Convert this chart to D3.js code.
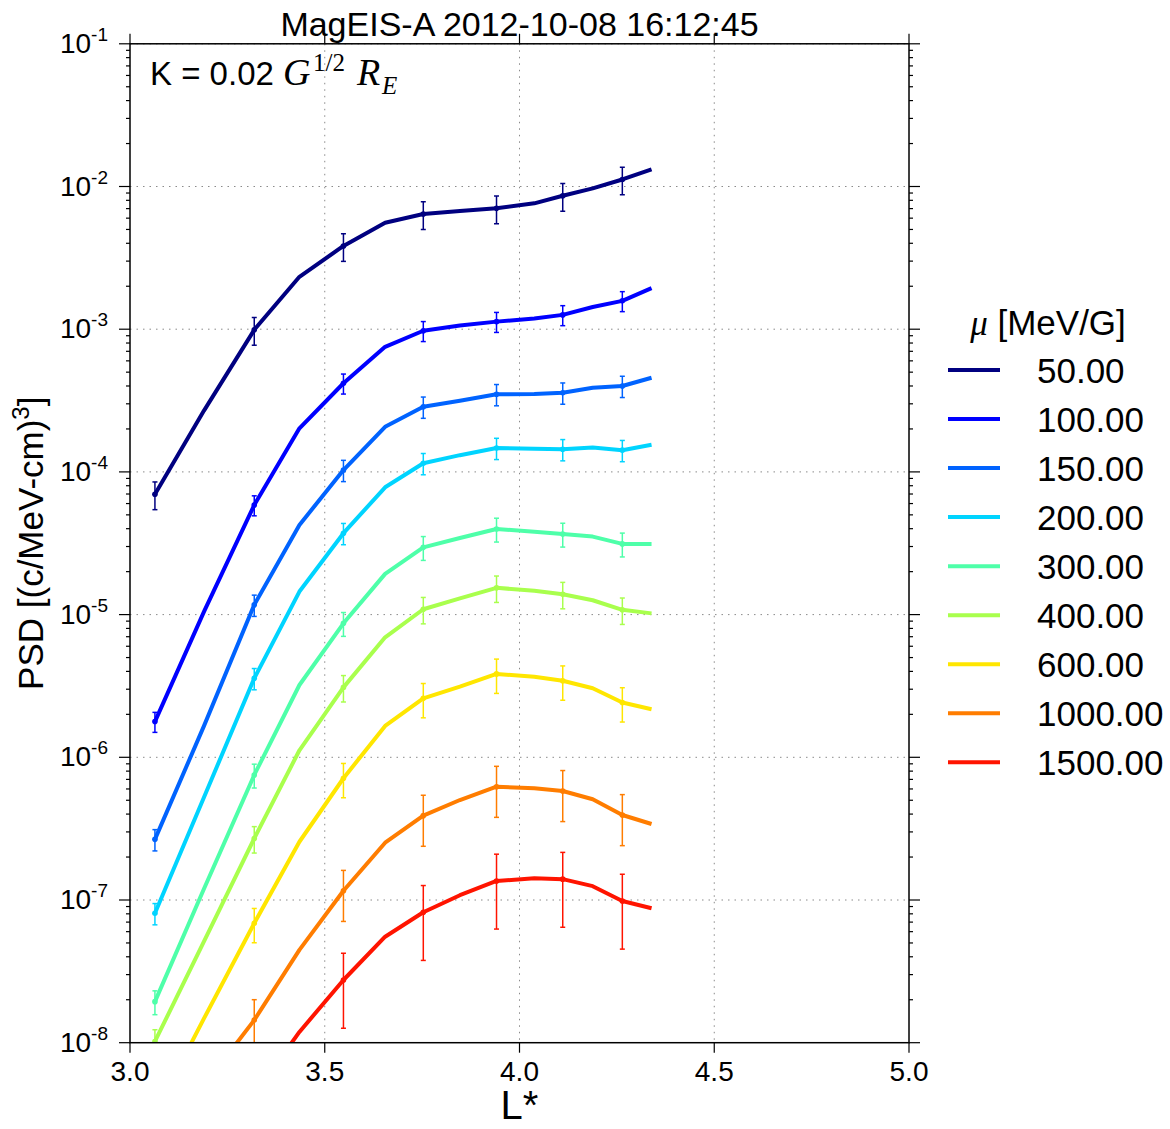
<!DOCTYPE html>
<html lang="en">
<head>
    <meta charset="UTF-8">
    <title>MagEIS-A PSD vs L*</title>
    <script src="https://cdn.jsdelivr.net/npm/d3@7"></script>
    <style>
        body { margin: 0; padding: 0; background: #fff; overflow: hidden; }
        svg { display: block; }
        text { font-family: "Liberation Sans", Arial, sans-serif; fill: #000; }
        .math { font-family: "Liberation Serif", "DejaVu Serif", serif; font-style: italic; }
    </style>
</head>
<body>
    <svg id="chart" width="1170" height="1129"></svg>
    <script>
        // L* positions of the profile points
        var lStar = [3.064, 3.19, 3.319, 3.435, 3.548, 3.655, 3.753, 3.847, 3.941, 4.038, 4.111, 4.188, 4.264, 4.339];
        // points that carry an error bar
        var errIdx = [0, 2, 4, 6, 8, 10, 12];

        var muLabels = ["50.00", "100.00", "150.00", "200.00", "300.00", "400.00", "600.00", "1000.00", "1500.00"];

        // phase space density, one array per mu
        var psd50 = [6.97e-5, 2.69e-4, 9.9e-4, 2.33e-3, 3.83e-3, 5.57e-3, 6.41e-3, 6.73e-3, 7.03e-3, 7.62e-3, 8.61e-3, 9.70e-3, 1.12e-2, 1.32e-2];
        var psd100 = [1.78e-6, 1.05e-5, 5.86e-5, 2.02e-4, 4.18e-4, 7.53e-4, 9.75e-4, 1.06e-3, 1.13e-3, 1.19e-3, 1.26e-3, 1.43e-3, 1.58e-3, 1.94e-3];
        var psd150 = [2.66e-7, 1.66e-6, 1.17e-5, 4.25e-5, 1.03e-4, 2.07e-4, 2.86e-4, 3.15e-4, 3.50e-4, 3.52e-4, 3.59e-4, 3.89e-4, 4.00e-4, 4.57e-4];
        var psd200 = [8.07e-8, 5.25e-7, 3.58e-6, 1.45e-5, 3.72e-5, 7.80e-5, 1.15e-4, 1.31e-4, 1.47e-4, 1.45e-4, 1.44e-4, 1.48e-4, 1.42e-4, 1.55e-4];
        var psd300 = [1.94e-8, 1.20e-7, 7.52e-7, 3.21e-6, 8.69e-6, 1.93e-5, 2.96e-5, 3.44e-5, 3.98e-5, 3.81e-5, 3.67e-5, 3.52e-5, 3.13e-5, 3.13e-5];
        var psd400 = [1.02e-8, 5.13e-8, 2.70e-7, 1.12e-6, 3.09e-6, 6.93e-6, 1.09e-5, 1.30e-5, 1.54e-5, 1.47e-5, 1.39e-5, 1.26e-5, 1.08e-5, 1.02e-5];
        var psd600 = [3.2e-9, 1.48e-8, 6.87e-8, 2.56e-7, 7.13e-7, 1.66e-6, 2.59e-6, 3.13e-6, 3.84e-6, 3.67e-6, 3.44e-6, 3.05e-6, 2.42e-6, 2.17e-6];
        var psd1000 = [1.6e-9, 5.0e-9, 1.44e-8, 4.47e-8, 1.16e-7, 2.52e-7, 3.90e-7, 5.02e-7, 6.22e-7, 6.07e-7, 5.81e-7, 5.08e-7, 3.94e-7, 3.41e-7];
        var psd1500 = [2.5e-10, 1.0e-9, 4.3e-9, 1.19e-8, 2.75e-8, 5.53e-8, 8.20e-8, 1.08e-7, 1.36e-7, 1.42e-7, 1.40e-7, 1.25e-7, 9.84e-8, 8.75e-8];

        // relative error of each mu channel
        var relErr = [0.22, 0.16, 0.17, 0.17, 0.19, 0.21, 0.27, 0.39, 0.54];

        var xTicks = [3.0, 3.5, 4.0, 4.5, 5.0];
        var yExps = [-8, -7, -6, -5, -4, -3, -2, -1];

        var allPsd = [psd50, psd100, psd150, psd200, psd300, psd400, psd600, psd1000, psd1500];
        var colors = ["#000080", "#0000ff", "#0063ff", "#00d4ff", "#4effa9", "#a9ff4d", "#ffe600", "#ff7d00", "#ff1400"];

        var pLeft = 130, pRight = 909, pTop = 43.8, pBottom = 1042.7;

        var x = d3.scaleLinear().domain([3, 5]).range([pLeft, pRight]);
        var y = d3.scaleLog().domain([1e-8, 1e-1]).range([pBottom, pTop]);

        var svg = d3.select("#chart");

        svg.append("defs").append("clipPath").attr("id", "plotClip")
            .append("rect")
            .attr("x", pLeft).attr("y", pTop)
            .attr("width", pRight - pLeft).attr("height", pBottom - pTop);

        // grid
        var grid = svg.append("g");
        xTicks.slice(1, -1).forEach(function (t) {
            grid.append("line")
                .attr("x1", x(t)).attr("x2", x(t))
                .attr("y1", pTop).attr("y2", pBottom)
                .attr("stroke", "#8a8a8a").attr("stroke-width", 1)
                .attr("stroke-dasharray", "1.5,5");
        });
        yExps.slice(1).forEach(function (e) {
            grid.append("line")
                .attr("x1", pLeft).attr("x2", pRight)
                .attr("y1", y(Math.pow(10, e))).attr("y2", y(Math.pow(10, e)))
                .attr("stroke", "#8a8a8a").attr("stroke-width", 1)
                .attr("stroke-dasharray", "1.5,5");
        });

        // data
        var plot = svg.append("g").attr("clip-path", "url(#plotClip)");
        var line = d3.line()
            .x(function (d) { return x(d[0]); })
            .y(function (d) { return y(d[1]); });

        allPsd.forEach(function (vals, i) {
            var pts = lStar.map(function (l, j) { return [l, vals[j]]; });
            var c = colors[i];

            errIdx.forEach(function (j) {
                var v = vals[j];
                var lo = v * (1 - relErr[i]), hi = v * (1 + relErr[i]);
                var xx = x(lStar[j]);
                plot.append("line")
                    .attr("x1", xx).attr("x2", xx)
                    .attr("y1", y(lo)).attr("y2", y(hi))
                    .attr("stroke", c).attr("stroke-width", 1.5);
                [lo, hi].forEach(function (w) {
                    plot.append("line")
                        .attr("x1", xx - 2.5).attr("x2", xx + 2.5)
                        .attr("y1", y(w)).attr("y2", y(w))
                        .attr("stroke", c).attr("stroke-width", 1.5);
                });
                plot.append("circle")
                    .attr("cx", xx).attr("cy", y(v)).attr("r", 2.8)
                    .attr("fill", c);
            });

            plot.append("path")
                .attr("d", line(pts))
                .attr("fill", "none")
                .attr("stroke", c)
                .attr("stroke-width", 4)
                .attr("stroke-linejoin", "round");
        });

        // frame
        svg.append("rect")
            .attr("x", pLeft).attr("y", pTop)
            .attr("width", pRight - pLeft).attr("height", pBottom - pTop)
            .attr("fill", "none").attr("stroke", "#000").attr("stroke-width", 1.5);

        // ticks
        var ticks = svg.append("g").attr("stroke", "#000").attr("stroke-width", 1.2);
        xTicks.forEach(function (t) {
            ticks.append("line").attr("x1", x(t)).attr("x2", x(t)).attr("y1", pBottom).attr("y2", pBottom + 10);
            ticks.append("line").attr("x1", x(t)).attr("x2", x(t)).attr("y1", pTop).attr("y2", pTop - 10);
        });
        yExps.forEach(function (e) {
            var yy = y(Math.pow(10, e));
            ticks.append("line").attr("x1", pLeft - 11).attr("x2", pLeft).attr("y1", yy).attr("y2", yy);
            ticks.append("line").attr("x1", pRight).attr("x2", pRight + 11).attr("y1", yy).attr("y2", yy);
            if (e < -1) {
                for (var m = 2; m <= 9; m++) {
                    var ym = y(m * Math.pow(10, e));
                    ticks.append("line").attr("x1", pLeft - 4).attr("x2", pLeft).attr("y1", ym).attr("y2", ym);
                    ticks.append("line").attr("x1", pRight).attr("x2", pRight + 4).attr("y1", ym).attr("y2", ym);
                }
            }
        });

        // tick labels
        xTicks.forEach(function (t) {
            svg.append("text")
                .attr("x", x(t)).attr("y", 1081)
                .attr("text-anchor", "middle")
                .attr("font-size", 28)
                .text(d3.format(".1f")(t));
        });
        yExps.forEach(function (e) {
            var tx = svg.append("text")
                .attr("x", 108).attr("y", y(Math.pow(10, e)) + 9)
                .attr("text-anchor", "end")
                .attr("font-size", 28);
            tx.append("tspan").text("10");
            tx.append("tspan").attr("dy", -12).attr("font-size", 19).text(e);
        });

        // axis labels
        svg.append("text")
            .attr("x", (pLeft + pRight) / 2).attr("y", 1119)
            .attr("text-anchor", "middle")
            .attr("font-size", 40)
            .text("L*");

        var yl = svg.append("text")
            .attr("transform", "translate(43," + ((pTop + pBottom) / 2) + ") rotate(-90)")
            .attr("text-anchor", "middle")
            .attr("font-size", 35);
        yl.append("tspan").text("PSD [(c/MeV-cm)");
        yl.append("tspan").attr("dy", -14).attr("font-size", 24).text("3");
        yl.append("tspan").attr("dy", 14).text("]");

        // title
        svg.append("text")
            .attr("x", (pLeft + pRight) / 2).attr("y", 36)
            .attr("text-anchor", "middle")
            .attr("font-size", 34)
            .text("MagEIS-A 2012-10-08 16:12:45");

        // K annotation
        var kt = svg.append("text")
            .attr("x", 150).attr("y", 85)
            .attr("font-size", 33);
        kt.append("tspan").text("K = 0.02");
        kt.append("tspan").attr("class", "math").attr("x", 283).attr("font-size", 38).text("G");
        kt.append("tspan").attr("class", "math").attr("style", "font-style:normal")
            .attr("x", 313).attr("dy", -14).attr("font-size", 25).text("1/2");
        kt.append("tspan").attr("class", "math").attr("x", 357).attr("dy", 14).attr("font-size", 38).text("R");
        kt.append("tspan").attr("class", "math").attr("x", 382).attr("dy", 9).attr("font-size", 25).text("E");

        // legend
        var lg = svg.append("g");
        var lt = lg.append("text")
            .attr("x", 1048).attr("y", 335)
            .attr("text-anchor", "middle")
            .attr("font-size", 35);
        lt.append("tspan").attr("class", "math").text("μ");
        lt.append("tspan").text(" [MeV/G]");

        muLabels.forEach(function (lab, i) {
            var ly = 370 + i * 49.04;
            lg.append("line")
                .attr("x1", 948).attr("x2", 1000)
                .attr("y1", ly).attr("y2", ly)
                .attr("stroke", colors[i]).attr("stroke-width", 4);
            lg.append("text")
                .attr("x", 1037).attr("y", ly + 12.5)
                .attr("font-size", 35)
                .text(lab);
        });
    </script>
</body>
</html>
